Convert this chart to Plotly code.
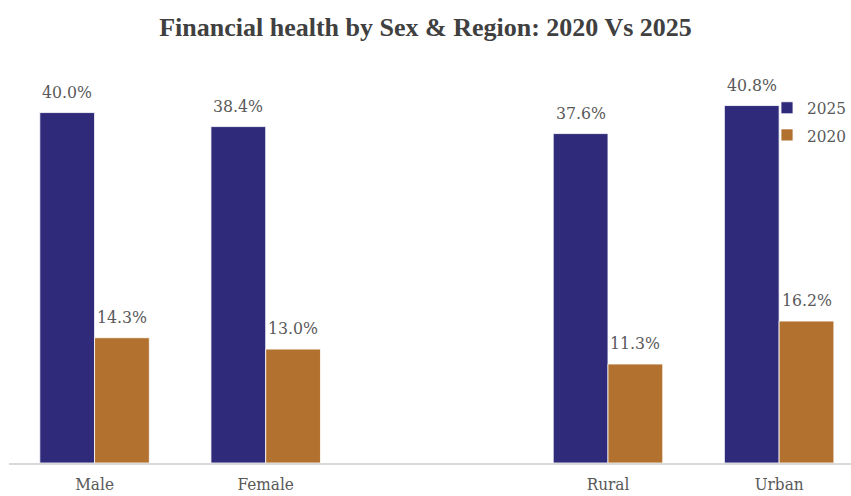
import plotly.graph_objects as go

# Category slots; slot 2 is left empty to separate Sex from Region
categories = ["Male", "Female", "Rural", "Urban"]
slots = [0, 1, 3, 4]
values_2025 = [40.0, 38.4, 37.6, 40.8]
values_2020 = [14.3, 13.0, 11.3, 16.2]

NAVY = "#2F2B7A"
BROWN = "#B2712F"
LABEL_FONT = dict(family="DejaVu Serif Condensed, DejaVu Serif, serif", size=17.5, color="#595959")
TICK_FONT = dict(family="DejaVu Serif Condensed, DejaVu Serif, serif", size=17, color="#595959")
LEGEND_FONT = dict(family="DejaVu Serif Condensed, DejaVu Serif, serif", size=17, color="#595959")

fig = go.Figure()
fig.add_trace(go.Bar(x=slots, y=values_2025, name="2025", legendgroup="a",
                     marker=dict(color=NAVY, line=dict(color="white", width=0.8))))
fig.add_trace(go.Bar(x=slots, y=values_2020, name="2020", legendgroup="b",
                     marker=dict(color=BROWN, line=dict(color="white", width=0.8))))

# Value labels sitting above each bar
half = 0.16
for xs, vals, off in [(slots, values_2025, -half), (slots, values_2020, half)]:
    for x, v in zip(xs, vals):
        fig.add_annotation(x=x + off, y=v, text=f"{v:.1f}%", showarrow=False,
                           yanchor="bottom", yshift=9, font=LABEL_FONT)

fig.update_layout(
    width=851, height=496,
    margin=dict(l=9, r=0, t=60, b=33, autoexpand=False),
    paper_bgcolor="white", plot_bgcolor="white",
    barmode="group", bargap=0.36, bargroupgap=0.0,
    title=dict(text="<b>Financial health by Sex & Region: 2020 Vs 2025</b>",
               x=0.5, xanchor="center", y=0.945, yanchor="middle",
               font=dict(family="Liberation Serif, Times New Roman, serif", size=26, color="#404040")),
    legend=dict(x=1.0, y=0.925, xanchor="right", yanchor="top", traceorder="grouped",
                font=LEGEND_FONT, itemwidth=30, tracegroupgap=2, bgcolor="rgba(0,0,0,0)"),
    showlegend=True,
)
fig.update_xaxes(range=[-0.5, 4.42], tickvals=slots, ticktext=categories,
                 tickfont=TICK_FONT, showgrid=False, zeroline=False, ticklabelstandoff=5,
                 showline=True, linecolor="#D9D9D9", linewidth=2, ticks="")
fig.update_yaxes(range=[0, 46.0], visible=False, showgrid=False)

fig.write_html("out.html")
